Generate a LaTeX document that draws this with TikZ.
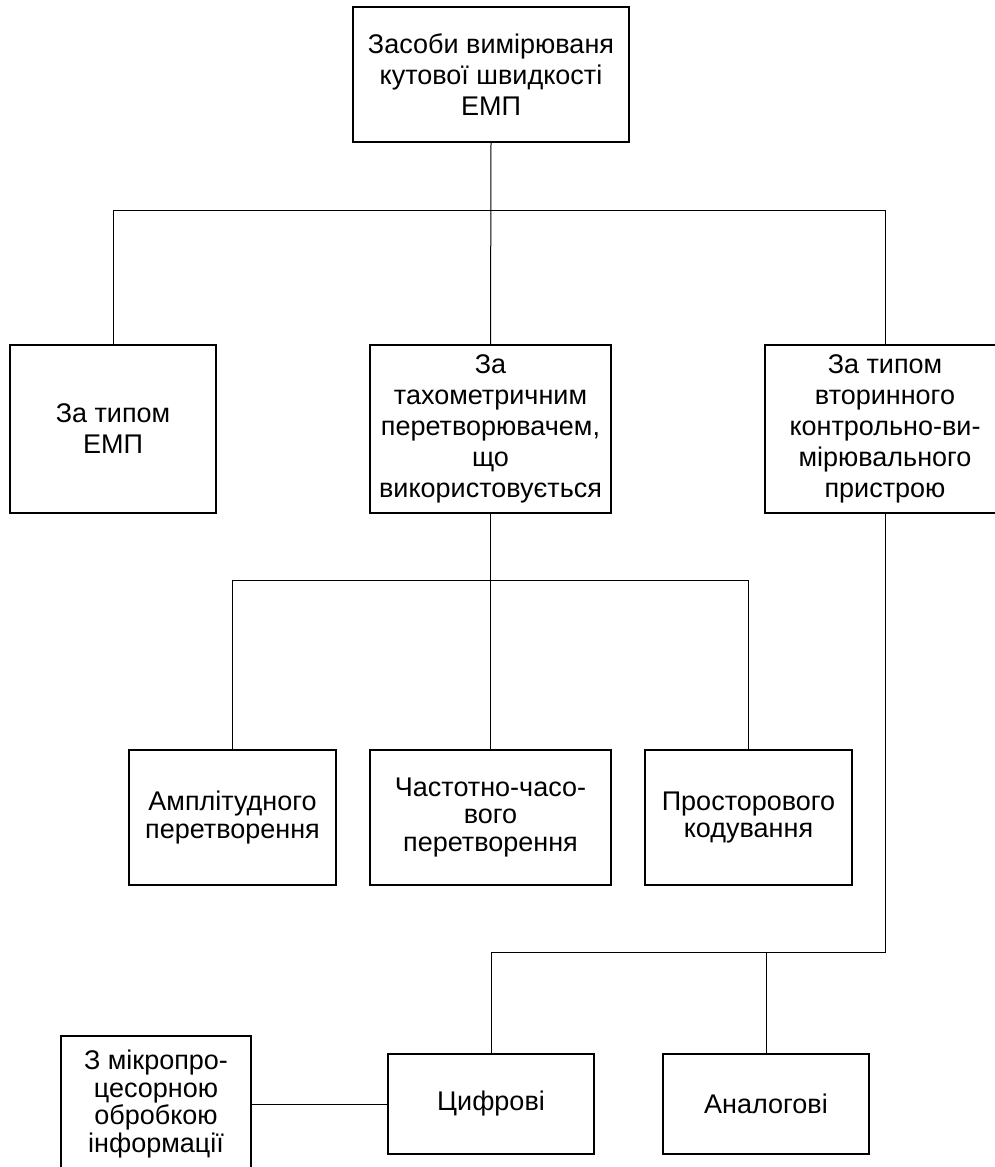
\documentclass[tikz,border=0pt]{standalone}
\usepackage{fontspec}
\setmainfont{Liberation Sans}
\usetikzlibrary{positioning}

\tikzset{
  box/.style={draw, line width=1.1pt, inner sep=1pt, align=center,
    font=\fontsize{27pt}{27.5pt}\selectfont},
  tall/.style={font=\fontsize{27pt}{31pt}\selectfont},
  link/.style={line width=1pt}
}

\begin{document}
\begin{tikzpicture}[x=1pt, y=-1pt]
            \useasboundingbox (0,0) rectangle (995,1167);

            % Вершина
            \node[box, tall, minimum width=276pt, minimum height=135pt] (top) at (491,74.5)
              {Засоби вимірюваня\\кутової швидкості\\ЕМП};

            % Перший рівень
            \node[box, tall, minimum width=206pt, minimum height=168pt] (bytype) at (113,429)
              {За типом\\ЕМП};
            \node[box, tall, minimum width=241pt, minimum height=168pt] (tacho) at (490.5,429)
              {За\\тахометричним\\перетворювачем,\\що\\використовується};
            \node[box, tall, minimum width=240pt, minimum height=168pt] (secondary) at (885,429)
              {За типом\\вторинного\\контрольно-ви-\\мірювального\\пристрою};

            % Другий рівень
            \node[box, minimum width=207pt, minimum height=135pt] (amp) at (232.5,817.5)
              {Амплітудного\\перетворення};
            \node[box, minimum width=241pt, minimum height=135pt] (freq) at (490.5,817.5)
              {Частотно-часо-\\вого\\перетворення};
            \node[box, minimum width=207pt, minimum height=135pt] (spatial) at (748.5,817.5)
              {Просторового\\кодування};

            % Нижній рівень
            \node[box, minimum width=206pt, minimum height=100pt] (digital) at (491,1104)
              {Цифрові};
            \node[box, minimum width=206pt, minimum height=100pt] (analog) at (766,1104)
              {Аналогові};
            \node[box, minimum width=190pt, minimum height=136pt] (micro) at (156,1104)
              {З мікропро-\\цесорною\\обробкою\\інформації};

            % Шини
            \coordinate (bus1) at (0,210);
            \coordinate (bus2) at (0,580);
            \coordinate (bus3) at (0,952);

            % Лінії зв'язку
            \draw[link] (top.south) -- (tacho.north);
            \draw[link] (bytype.north) -- (bytype.north |- bus1) -- (secondary.north |- bus1) -- (secondary.north);
            \draw[link] (tacho.south) -- (freq.north);
            \draw[link] (amp.north) -- (amp.north |- bus2) -- (spatial.north |- bus2) -- (spatial.north);
            \draw[link] (secondary.south) -- (secondary.south |- bus3) -- (digital.north |- bus3) -- (digital.north);
            \draw[link] (analog.north) -- (analog.north |- bus3);
            \draw[link] (micro.east) -- (digital.west);
        \end{tikzpicture}
\end{document}
